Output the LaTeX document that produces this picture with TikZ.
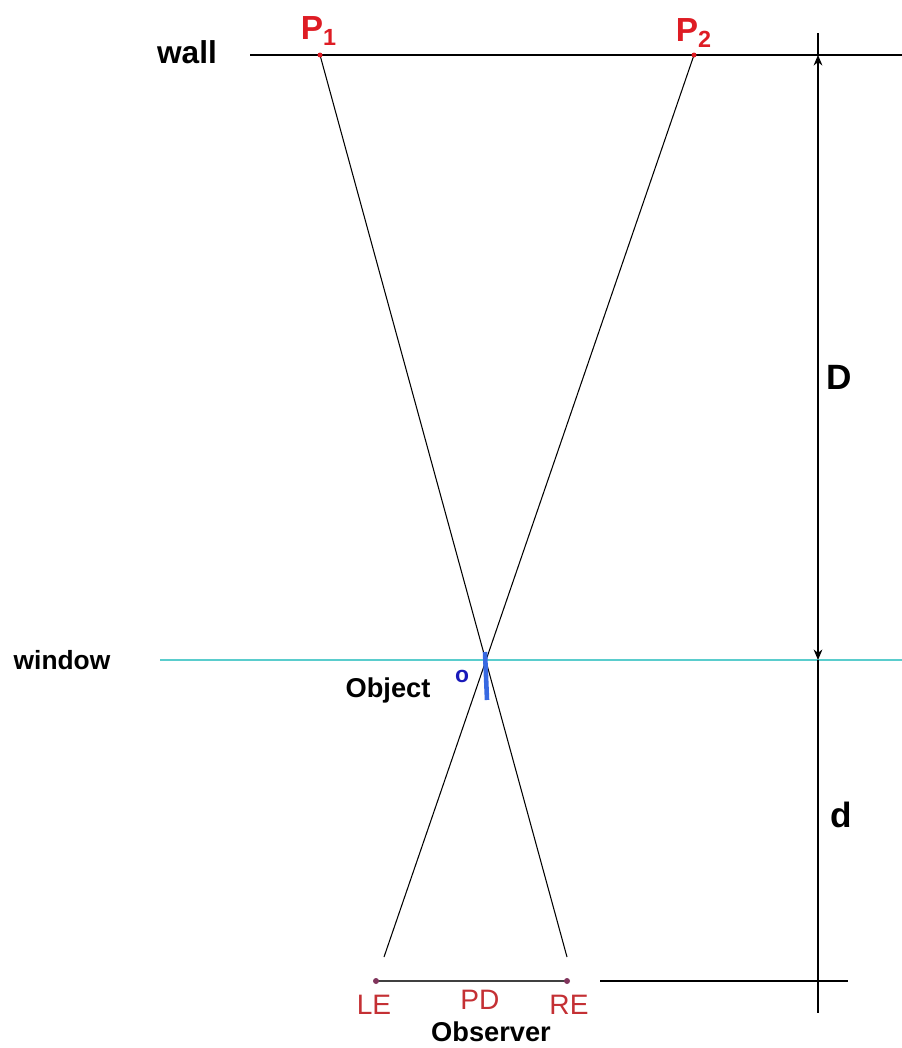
\documentclass[tikz,border=0pt]{standalone}
\usepackage{fontspec}
\setmainfont{Liberation Sans}
\usetikzlibrary{arrows.meta,positioning,calc}
\definecolor{pred}{RGB}{222,28,36}
\definecolor{eyered}{RGB}{196,48,52}
\definecolor{eyedot}{RGB}{128,52,92}
\definecolor{glass}{RGB}{90,205,205}
\definecolor{objblue}{RGB}{55,105,225}
\definecolor{darkblue}{RGB}{25,25,185}
\begin{document}
\begin{tikzpicture}[x=0.02cm,y=-0.02cm,every node/.style={inner sep=1pt},
  lbl/.style={font=\bfseries\fontsize{15.5}{15.5}\selectfont},
  dimlbl/.style={font=\bfseries\fontsize{20}{20}\selectfont},
  plbl/.style={font=\bfseries\fontsize{19}{19}\selectfont,text=pred},
  eyelbl/.style={font=\fontsize{16}{16}\selectfont,text=eyered},
  ray/.style={line width=0.6pt,black},
  dimline/.style={line width=0.6pt,black}]
  \useasboundingbox (0,0) rectangle (902,1048);
  % points
  \coordinate (p1) at (320,55);
  \coordinate (p2) at (694,55);
  \coordinate (le) at (376,981);
  \coordinate (re) at (567,981);
  \coordinate (lend) at (384,957);
  \coordinate (rend) at (567,957);
  \coordinate (wa) at (250,55);
  \coordinate (wb) at (902,55);
  \coordinate (ga) at (160,660);
  \coordinate (gb) at (902,660);
  \coordinate (dtop) at (818,33);
  \coordinate (dwall) at (818,55);
  \coordinate (dwin) at (818,660);
  \coordinate (dbot) at (818,1013);
  \coordinate (ba) at (600,981);
  \coordinate (bb) at (848,981);
  \coordinate (oa) at (485,652);
  \coordinate (ob) at (487,700);
  % wall and window
  \draw[line width=0.9pt] (wa)--(wb);
  \draw[glass,line width=1.2pt] (ga)--(gb);
  \node[lbl,font=\bfseries\fontsize{18}{18}\selectfont] (wall) at (187,52) {wall};
  \node[lbl,font=\bfseries\fontsize{15}{15}\selectfont] (win) at (62,660) {window};
  % rays
  \foreach \x/\y in {p1/rend,p2/lend}{\draw[ray] (\x)--(\y);}
  % object
  \draw[objblue,line width=2.6pt] (oa)--(ob);
  \node[font=\bfseries\fontsize{13}{13}\selectfont,text=darkblue] (o) at (462,676) {o};
  \node[lbl] (obj) at (388,690) {Object};
  % wall points
  \fill[pred] (p1) circle (2.5);
  \fill[pred] (p2) circle (2.5);
  \node[plbl] (lp1) at (319,31) {P\textsubscript{1}};
  \node[plbl] (lp2) at (694,33) {P\textsubscript{2}};
  % dimensions
  \draw[dimline] (dtop)--(dwall);
  \draw[dimline,{Stealth[length=6pt,width=5pt]}-{Stealth[length=6pt,width=5pt]}] (dwall)--(dwin);
  \draw[dimline] (dwin)--(dbot);
  \draw[dimline] (ba)--(bb);
  \node[dimlbl] (bigd) at (839,377) {D};
  \node[dimlbl] (smalld) at (841,815) {d};
  % observer
  \draw[line width=0.9pt,black!75] (le)--(re);
  \fill[eyedot] (le) circle (3);
  \fill[eyedot] (re) circle (3);
  \node[eyelbl] (lel) at (374,1005) {LE};
  \node[eyelbl] (pd) at (480,1000) {PD};
  \node[eyelbl] (rel) at (569,1005) {RE};
  \node[font=\bfseries\fontsize{15.5}{15.5}\selectfont] (obs) at (491,1032) {Observer};
\end{tikzpicture}
\end{document}
